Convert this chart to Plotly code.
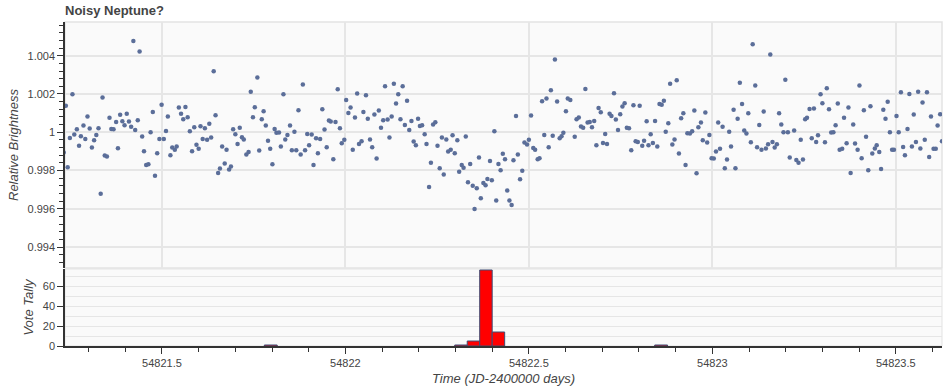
import plotly.graph_objects as go

# ---------------- data ----------------
time_jd = [
    54821.232, 54821.238, 54821.243, 54821.249, 54821.256, 54821.261, 54821.268, 54821.274, 54821.279, 54821.286,
    54821.291, 54821.297, 54821.303, 54821.309, 54821.315, 54821.321, 54821.327, 54821.333, 54821.338, 54821.344,
    54821.350, 54821.357, 54821.362, 54821.368, 54821.375, 54821.380, 54821.386, 54821.392, 54821.398, 54821.404,
    54821.410, 54821.416, 54821.422, 54821.427, 54821.434, 54821.439, 54821.446, 54821.451, 54821.457, 54821.463,
    54821.469, 54821.475, 54821.481, 54821.487, 54821.493, 54821.499, 54821.505, 54821.511, 54821.516, 54821.523,
    54821.528, 54821.535, 54821.540, 54821.546, 54821.552, 54821.558, 54821.564, 54821.570, 54821.576, 54821.582,
    54821.588, 54821.594, 54821.600, 54821.605, 54821.611, 54821.617, 54821.623, 54821.629, 54821.634, 54821.641,
    54821.646, 54821.653, 54821.658, 54821.664, 54821.671, 54821.676, 54821.683, 54821.688, 54821.694, 54821.700,
    54821.706, 54821.712,
    54821.718, 54821.723, 54821.730, 54821.736, 54821.742, 54821.748, 54821.753, 54821.760, 54821.765, 54821.772,
    54821.777, 54821.783, 54821.789, 54821.795, 54821.801, 54821.807, 54821.812, 54821.819, 54821.824, 54821.831,
    54821.836, 54821.842, 54821.849, 54821.854, 54821.861, 54821.866, 54821.872, 54821.878, 54821.884, 54821.890,
    54821.896, 54821.901, 54821.908, 54821.913, 54821.920, 54821.925, 54821.931, 54821.937, 54821.943, 54821.949,
    54821.955, 54821.960, 54821.967, 54821.973, 54821.979, 54821.985, 54821.990, 54821.997, 54822.002, 54822.008,
    54822.014, 54822.020, 54822.026, 54822.032, 54822.037, 54822.044, 54822.049, 54822.056, 54822.061, 54822.067,
    54822.073, 54822.079, 54822.085, 54822.091, 54822.097, 54822.103, 54822.108, 54822.115, 54822.120, 54822.126,
    54822.132, 54822.138, 54822.144, 54822.150, 54822.156, 54822.162, 54822.168, 54822.174, 54822.180, 54822.186,
    54822.192, 54822.198,
    54822.203, 54822.209, 54822.216, 54822.221, 54822.228, 54822.233, 54822.239, 54822.245, 54822.251, 54822.257,
    54822.263, 54822.268, 54822.275, 54822.280, 54822.287, 54822.292, 54822.298, 54822.305, 54822.310, 54822.317,
    54822.322, 54822.328, 54822.334, 54822.340, 54822.347, 54822.352, 54822.358, 54822.364, 54822.369, 54822.376,
    54822.382, 54822.387, 54822.394, 54822.399, 54822.406, 54822.411, 54822.417, 54822.423, 54822.429, 54822.435,
    54822.441, 54822.447, 54822.453, 54822.458, 54822.465, 54822.470, 54822.476, 54822.482, 54822.488, 54822.495,
    54822.500, 54822.506, 54822.512, 54822.517, 54822.524, 54822.529, 54822.536, 54822.542, 54822.548, 54822.554,
    54822.560, 54822.565, 54822.571, 54822.577, 54822.584, 54822.589, 54822.594, 54822.601, 54822.606, 54822.613,
    54822.625, 54822.630, 54822.636, 54822.642, 54822.648, 54822.654, 54822.660, 54822.666, 54822.672, 54822.678,
    54822.684,
    54822.690, 54822.696, 54822.702, 54822.708, 54822.713, 54822.720, 54822.725, 54822.732, 54822.737, 54822.743,
    54822.749, 54822.755, 54822.761, 54822.767, 54822.773, 54822.779, 54822.785, 54822.791, 54822.797, 54822.802,
    54822.809, 54822.814, 54822.821, 54822.826, 54822.832, 54822.838, 54822.844, 54822.850, 54822.856, 54822.862,
    54822.868, 54822.873, 54822.880, 54822.885, 54822.891, 54822.897, 54822.903, 54822.909, 54822.915, 54822.921,
    54822.927, 54822.932, 54822.939, 54822.945, 54822.951, 54822.957, 54822.962, 54822.969, 54822.974, 54822.981,
    54822.986, 54822.992, 54822.998, 54823.004, 54823.010, 54823.016, 54823.021, 54823.028, 54823.034, 54823.040,
    54823.046, 54823.051, 54823.058, 54823.063, 54823.069, 54823.075, 54823.081, 54823.087, 54823.093, 54823.098,
    54823.105, 54823.110, 54823.117, 54823.122, 54823.128, 54823.134, 54823.140, 54823.146, 54823.152, 54823.158,
    54823.164, 54823.170,
    54823.176, 54823.182, 54823.188, 54823.194, 54823.199, 54823.206, 54823.211, 54823.223, 54823.229, 54823.235,
    54823.241, 54823.247, 54823.253, 54823.258, 54823.265, 54823.271, 54823.277, 54823.283, 54823.288, 54823.295,
    54823.300, 54823.307, 54823.312, 54823.318, 54823.324, 54823.330, 54823.336, 54823.342, 54823.347, 54823.354,
    54823.359, 54823.366, 54823.371, 54823.377, 54823.384, 54823.389, 54823.396, 54823.401, 54823.407, 54823.413,
    54823.419, 54823.425, 54823.431, 54823.436, 54823.443, 54823.448, 54823.455, 54823.460, 54823.466, 54823.472,
    54823.478, 54823.484, 54823.490, 54823.495, 54823.502, 54823.508, 54823.514, 54823.520, 54823.525, 54823.532,
    54823.537, 54823.544, 54823.549, 54823.555, 54823.561, 54823.567, 54823.573, 54823.579, 54823.585, 54823.591,
    54823.596, 54823.603, 54823.609, 54823.614, 54823.621, 54823.626,
]

relative_brightness = [
    0.99894, 1.00138, 0.99817, 0.99970, 1.00199, 0.99988, 1.00016, 0.99929, 0.99979, 1.00035,
    0.99965, 1.00082, 1.00019, 0.99920, 0.99958, 0.99986, 1.00021, 0.99679, 1.00181, 0.99878,
    0.99873, 1.00075, 1.00017, 1.00016, 1.00054, 0.99916, 1.00091, 1.00057, 1.00037, 1.00096,
    1.00056, 1.00028, 1.00477, 1.00012, 1.00063, 1.00422, 0.99977, 0.99901, 0.99828, 0.99833,
    1.00000, 1.00106, 0.99772, 0.99890, 0.99965, 1.00143, 0.99965, 1.00007, 1.00082, 0.99880,
    0.99920, 0.99909, 0.99925, 1.00129, 1.00096, 1.00068, 1.00132, 1.00078, 1.00005, 0.99901,
    1.00026, 0.99934, 0.99913, 1.00031, 0.99965, 1.00021, 0.99960, 1.00044, 0.99972, 1.00319,
    1.00089, 0.99787, 0.99810, 0.99925, 0.99836, 0.99909, 0.99805, 0.99821, 1.00016, 0.99990,
    0.99939, 1.00023,
    0.99974, 0.99962, 0.99883, 0.99897, 1.00211, 1.00078, 1.00131, 1.00286, 0.99904, 1.00068,
    1.00110, 1.00035, 0.99955, 0.99913, 0.99833, 1.00017, 0.99997, 0.99998, 0.99925, 1.00199,
    0.99962, 0.99986, 1.00035, 0.99906, 1.00002, 0.99906, 1.00115, 0.99883, 1.00249, 0.99906,
    0.99991, 0.99932, 0.99988, 0.99828, 0.99969, 0.99890, 0.99965, 1.00120, 1.00014, 0.99922,
    1.00061, 1.00056, 0.99859, 1.00054, 1.00225, 1.00021, 0.99943, 0.99960, 1.00169, 1.00101,
    1.00129, 0.99909, 1.00077, 1.00202, 0.99939, 0.99953, 1.00106, 1.00193, 1.00070, 0.99962,
    0.99922, 1.00092, 0.99862, 1.00113, 1.00024, 1.00063, 1.00240, 1.00066, 0.99972, 1.00082,
    1.00254, 1.00150, 1.00199, 1.00068, 1.00240, 1.00038, 1.00164, 1.00012, 1.00059, 0.99951,
    0.99932, 1.00071,
    1.00033, 1.00037, 0.99990, 0.99939, 0.99713, 0.99841, 1.00040, 1.00052, 0.99929, 0.99812,
    0.99972, 0.99779, 0.99962, 0.99899, 0.99909, 0.99984, 0.99890, 0.99958, 0.99793, 0.99828,
    0.99814, 0.99977, 0.99739, 0.99834, 0.99720, 0.99598, 0.99707, 0.99868, 0.99655, 0.99735,
    0.99723, 0.99756, 0.99850, 0.99749, 1.00005, 0.99643, 0.99834, 0.99801, 0.99887, 0.99859,
    0.99695, 0.99643, 0.99620, 0.99854, 1.00085, 0.99883, 0.99754, 0.99798, 0.99946, 0.99936,
    0.99960, 1.00087, 0.99918, 0.99908, 0.99859, 0.99864, 1.00162, 0.99986, 1.00176, 0.99922,
    1.00220, 0.99981, 1.00380, 1.00160, 0.99969, 0.99979, 0.99997, 1.00110, 1.00176, 1.00169,
    0.99976, 1.00068, 1.00077, 1.00030, 1.00023, 1.00226, 1.00051, 1.00054, 1.00026, 1.00059,
    0.99932,
    1.00127, 1.00105, 0.99944, 0.99991, 0.99939, 1.00096, 1.00085, 1.00204, 1.00066, 1.00012,
    1.00094, 1.00134, 1.00152, 1.00024, 1.00021, 0.99906, 1.00141, 0.99953, 0.99949, 1.00139,
    0.99929, 0.99956, 1.00057, 0.99932, 0.99990, 0.99944, 1.00059, 0.99925, 1.00148, 1.00143,
    1.00164, 1.00003, 1.00047, 1.00253, 0.99936, 0.99962, 1.00272, 0.99889, 1.00073, 1.00099,
    0.99828, 0.99995, 0.99993, 1.00005, 1.00113, 0.99786, 1.00026, 1.00051, 0.99958, 1.00103,
    0.99946, 0.99986, 0.99864, 0.99862, 0.99899, 1.00051, 0.99913, 1.00028, 0.99812, 0.99857,
    1.00002, 0.99925, 1.00118, 0.99812, 1.00071, 1.00258, 1.00148, 1.00009, 0.99993, 1.00099,
    0.99948, 1.00460, 1.00244, 0.99922, 1.00038, 0.99909, 1.00108, 0.99915, 0.99937, 1.00406,
    0.99949, 0.99920,
    0.99937, 1.00099, 1.00040, 1.00000, 1.00274, 1.00000, 0.99868, 1.00009, 0.99855, 0.99840,
    0.99960, 0.99857, 1.00068, 1.00075, 1.00122, 0.99969, 1.00124, 0.99949, 0.99984, 1.00199,
    1.00152, 0.99948, 1.00230, 1.00120, 0.99998, 1.00000, 1.00037, 1.00150, 0.99908, 0.99913,
    1.00075, 0.99943, 1.00129, 0.99787, 1.00040, 0.99941, 0.99909, 1.00244, 0.99864, 1.00115,
    0.99976, 0.99801, 1.00136, 0.99889, 0.99915, 0.99932, 0.99897, 0.99808, 1.00118, 1.00071,
    1.00159, 1.00000, 0.99909, 0.99909, 1.00085, 1.00000, 1.00209, 0.99923, 0.99880, 1.00017,
    1.00200, 0.99925, 1.00092, 0.99949, 1.00211, 0.99915, 1.00155, 0.99960, 1.00209, 0.99871,
    1.00082, 0.99913, 0.99913, 1.00035, 1.00094, 0.99953,
]

vote_bin_start = [54821.779, 54822.298, 54822.332, 54822.366, 54822.400, 54822.843]
vote_bin_width = [0.035, 0.034, 0.034, 0.034, 0.034, 0.035]
vote_tally = [1, 1, 5, 76, 14, 1]

x_tick_vals = [54821.5, 54822.0, 54822.5, 54823.0, 54823.5]
x_tick_text = ["54821.5", "54822", "54822.5", "54823", "54823.5"]
y_tick_vals = [0.994, 0.996, 0.998, 1.0, 1.002, 1.004]
y_tick_text = ["0.994", "0.996", "0.998", "1", "1.002", "1.004"]
vote_tick_vals = [0, 20, 40, 60]
vote_tick_text = ["0", "20", "40", "60"]

# ---------------- styling ----------------
W, H = 945, 389
AXIS_COL = "#333333"
GRID_COL = "#e6e6e6"
TEXT_COL = "#444444"
FONT = "Liberation Sans, Arial, Helvetica, sans-serif"

fig = go.Figure()
fig.add_trace(go.Scatter(
    x=time_jd, y=relative_brightness, mode="markers",
    marker=dict(size=4.5, color="#5b6e99", line=dict(width=0)),
    xaxis="x", yaxis="y", showlegend=False, hoverinfo="skip",
))
fig.add_trace(go.Bar(
    x=vote_bin_start, y=vote_tally, width=vote_bin_width, offset=0,
    marker=dict(color="#ff0000", line=dict(color="#3e4c74", width=1)),
    xaxis="x2", yaxis="y2", showlegend=False, hoverinfo="skip",
))

x_range = [54821.2357, 54823.626]
title_font = dict(family=FONT, size=13, color=TEXT_COL, style="italic")

fig.update_layout(
    width=W, height=H,
    margin=dict(l=65, r=3, t=22, b=43, autoexpand=False),
    paper_bgcolor="white", plot_bgcolor="#fafafa",
    font=dict(family=FONT, size=11, color=TEXT_COL),
    showlegend=False,
    title=dict(text="<b>Noisy Neptune?</b>", x=0, xref="paper", xanchor="left",
               y=1 - 10 / H, yref="container", yanchor="middle",
               font=dict(family=FONT, size=13, color=TEXT_COL)),
    xaxis=dict(domain=[0, 1], anchor="y", range=x_range, tickmode="array",
               tickvals=x_tick_vals, ticktext=x_tick_text, showticklabels=False,
               ticks="", showgrid=True, gridcolor=GRID_COL, gridwidth=1.5,
               showline=False, zeroline=False, automargin=False),
    yaxis=dict(domain=[78 / 324, 1], anchor="x", range=[0.992902, 1.005762],
               tickmode="array", tickvals=y_tick_vals, ticktext=y_tick_text,
               ticks="outside", ticklen=6, tickwidth=1, tickcolor=AXIS_COL,
               showline=True, linecolor=AXIS_COL, linewidth=1.5,
               showgrid=True, gridcolor=GRID_COL, gridwidth=1.5, zeroline=False,
               minor=dict(tickmode="linear", tick0=0.994, dtick=0.0004, ticks="outside",
                          ticklen=4, tickwidth=1, tickcolor=AXIS_COL, showgrid=False),
               title=dict(text="Relative Brightness", font=title_font, standoff=6),
               automargin=False),
    xaxis2=dict(domain=[0, 1], anchor="y2", range=x_range, tickmode="array",
                tickvals=x_tick_vals, ticktext=x_tick_text,
                ticks="outside", ticklen=6, tickwidth=1, tickcolor=AXIS_COL,
                showline=True, linecolor=AXIS_COL, linewidth=1.5,
                showgrid=False, zeroline=False,
                minor=dict(tickmode="linear", tick0=54821.5, dtick=0.1, ticks="outside",
                           ticklen=4, tickwidth=1, tickcolor=AXIS_COL, showgrid=False),
                title=dict(text="Time (JD-2400000 days)", font=title_font, standoff=6),
                automargin=False),
    yaxis2=dict(domain=[0, 77 / 324], anchor="x2", range=[0, 77], tickmode="array",
                tickvals=vote_tick_vals, ticktext=vote_tick_text,
                ticks="outside", ticklen=6, tickwidth=1, tickcolor=AXIS_COL,
                showline=True, linecolor=AXIS_COL, linewidth=1.5,
                showgrid=True, gridcolor=GRID_COL, gridwidth=1, zeroline=False,
                minor=dict(tickmode="linear", tick0=0, dtick=10, ticks="",
                           showgrid=True, gridcolor=GRID_COL, gridwidth=1),
                title=dict(text="Vote Tally", font=title_font, standoff=6),
                automargin=False),
    shapes=[
        dict(type="rect", xref="x domain", yref="y domain", x0=0, x1=1, y0=0, y1=1,
             line=dict(color="#e3e3e3", width=1.5), layer="below"),
        dict(type="rect", xref="x2 domain", yref="y2 domain", x0=0, x1=1, y0=0, y1=1,
             line=dict(color="#e3e3e3", width=1), layer="below"),
    ],
)

# remove the browser's default 8px page margin so the figure sits at the top-left corner
fig.write_html(
    "out.html",
    config={"displayModeBar": False},
    post_script="document.body.style.margin='0';document.body.style.padding='0';",
)
